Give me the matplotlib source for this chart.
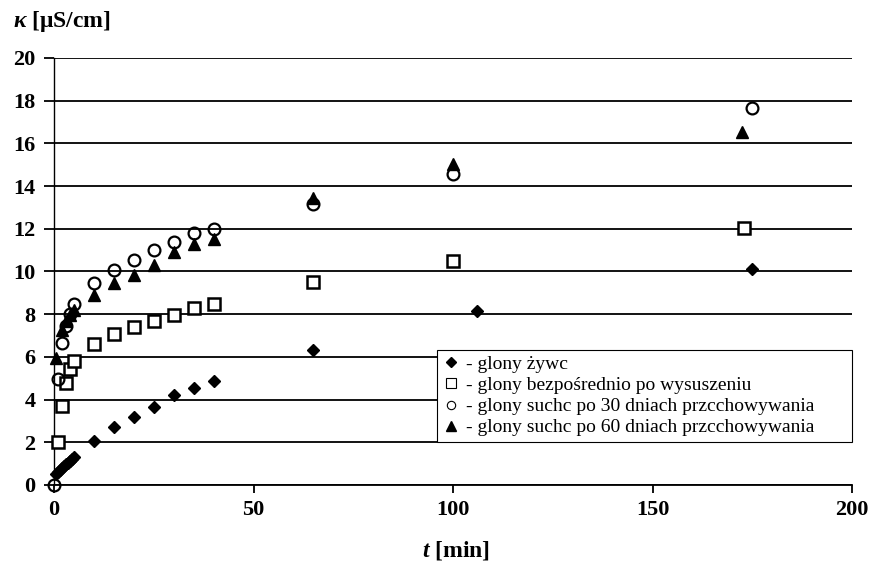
import numpy as np
import matplotlib.pyplot as plt
from matplotlib.lines import Line2D

plt.rcParams['font.family'] = ['Liberation Serif', 'DejaVu Serif']
plt.rcParams['mathtext.fontset'] = 'custom'
plt.rcParams['mathtext.rm'] = 'Liberation Serif:bold'
plt.rcParams['mathtext.bfit'] = 'Liberation Serif:italic:bold'
plt.rcParams['mathtext.it'] = 'Liberation Serif:italic:bold'

# conductivity vs time for the four algae samples
t_zywe = [0.5, 1, 1.5, 2, 2.5, 3, 3.5, 4, 4.5, 5, 10, 15, 20, 25, 30, 35, 40, 65, 106, 175]
k_zywe = [0.5, 0.6, 0.7, 0.8, 0.9, 0.97, 1.05, 1.12, 1.2, 1.3, 2.05, 2.7, 3.2, 3.65, 4.2, 4.55, 4.85, 6.3, 8.15, 10.1]

t_susz = [1, 2, 3, 4, 5, 10, 15, 20, 25, 30, 35, 40, 65, 100, 173]
k_susz = [2.0, 3.7, 4.8, 5.45, 5.8, 6.6, 7.05, 7.4, 7.7, 7.95, 8.3, 8.5, 9.5, 10.5, 12.05]

t_30 = [0, 1, 2, 3, 4, 5, 10, 15, 20, 25, 30, 35, 40, 65, 100, 175]
k_30 = [0.0, 4.95, 6.65, 7.45, 8.0, 8.5, 9.45, 10.05, 10.55, 11.0, 11.4, 11.8, 12.0, 13.15, 14.55, 17.65]

t_60 = [0.5, 2, 3, 4, 5, 10, 15, 20, 25, 30, 35, 40, 65, 100, 172.5]
k_60 = [5.95, 7.25, 7.7, 7.95, 8.2, 8.9, 9.45, 9.85, 10.3, 10.9, 11.27, 11.5, 13.45, 15.05, 16.55]

labels = ['- glony żywc',
          '- glony bezpośrednio po wysuszeniu',
          '- glony suchc po 30 dniach przcchowywania',
          '- glony suchc po 60 dniach przcchowywania']

fig = plt.figure(figsize=(8.74, 5.73), dpi=100)
ax = fig.add_axes([0.0618, 0.1536, 0.9132, 0.7452])

ax.plot(t_zywe, k_zywe, 'D', color='black', ms=6.5, ls='none', zorder=3, clip_on=False)
ax.plot(t_susz, k_susz, 's', mfc='white', mec='black', mew=1.8, ms=8, ls='none', zorder=3, clip_on=False)
ax.plot(t_30, k_30, 'o', mfc='none', mec='black', mew=1.6, ms=8.5, ls='none', zorder=4, clip_on=False)
ax.plot(t_60, k_60, '^', color='black', ms=9, ls='none', zorder=3, clip_on=False)

ax.set_xlim(0, 200)
ax.set_ylim(0, 20)
ax.set_xticks(np.arange(0, 201, 50))
ax.set_yticks(np.arange(0, 21, 2))
ax.grid(axis='y', color='black', lw=1.3)
ax.set_axisbelow(True)
for s in ['top', 'right']:
    ax.spines[s].set_visible(False)
ax.spines['left'].set_linewidth(1.0)
ax.spines['bottom'].set_linewidth(1.3)
ax.tick_params(axis='y', length=7.5, width=1.3, pad=6, labelsize=16)
ax.tick_params(axis='x', length=5.5, width=1.3, pad=5, labelsize=16)
for lab in ax.get_xticklabels() + ax.get_yticklabels():
    lab.set_fontweight('bold')

handles = [
    Line2D([], [], marker='D', color='black', ls='none', ms=5),
    Line2D([], [], marker='s', mfc='white', mec='black', mew=0.8, ls='none', ms=7),
    Line2D([], [], marker='o', mfc='white', mec='black', mew=0.8, ls='none', ms=6),
    Line2D([], [], marker='^', color='black', ls='none', ms=7),
]
leg = ax.legend(handles, labels, loc='lower left', bbox_to_anchor=(0.48, 0.10, 0.52, 0.205),
                mode='expand', fontsize=14, frameon=True, fancybox=False, framealpha=1,
                edgecolor='black', handlelength=0.8, handletextpad=0.4,
                labelspacing=0.18, borderpad=0.3, borderaxespad=0)
leg.get_frame().set_linewidth(0.8)

fig.text(0.015, 0.963, r'$\mathbfit{\kappa}$ [μS/cm]', fontsize=17, fontweight='bold',
         va='center', ha='left')
fig.text(0.522, 0.040, r'$\mathbfit{t}$ [min]', fontsize=17, fontweight='bold',
         va='center', ha='center')

fig.savefig('out.png', dpi=100)
